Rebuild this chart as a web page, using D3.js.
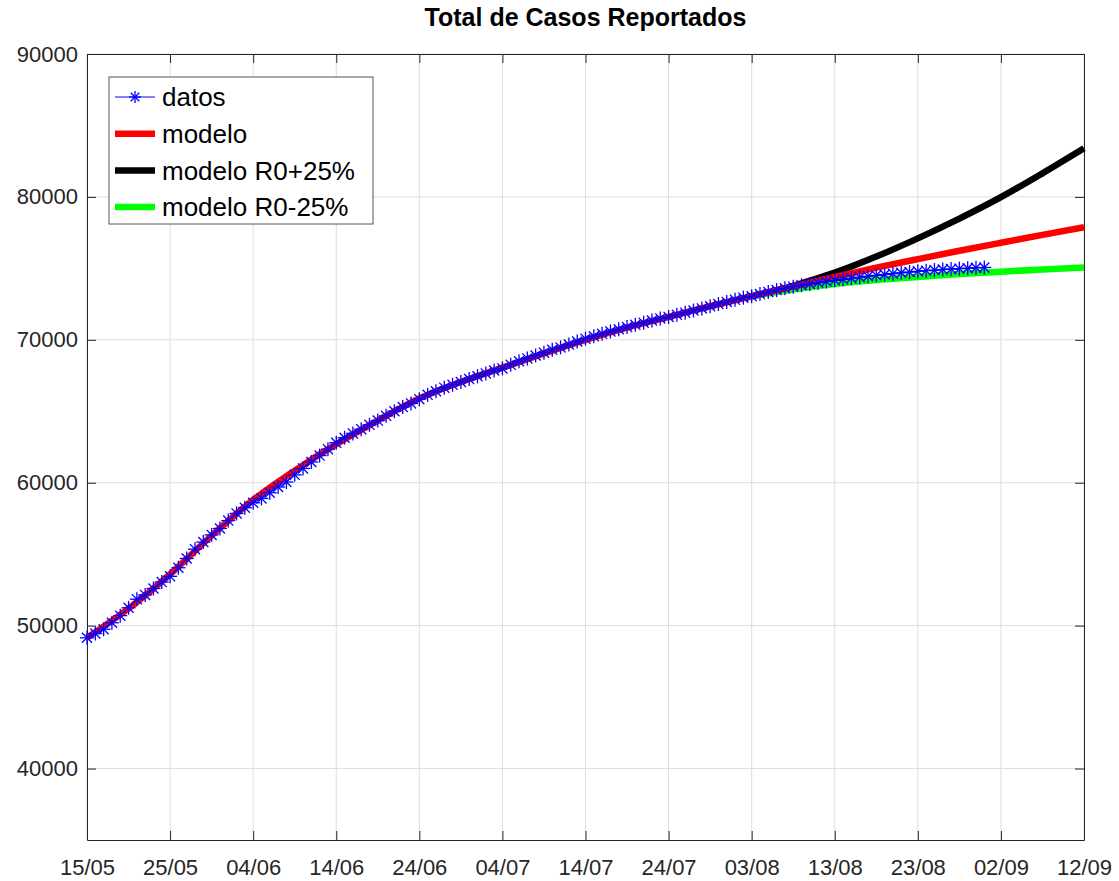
<!DOCTYPE html>
<html>
<head>
<meta charset="utf-8">
<script src="https://cdn.jsdelivr.net/npm/d3@7"></script>
<style>
body{margin:0;background:#fff;}
text{font-family:"Liberation Sans",Arial,Helvetica,sans-serif;}
.grid line{stroke:#dedede;stroke-width:1;}
.axis path,.axis line{stroke:#262626;stroke-width:1;}
.axis text{fill:#262626;font-size:22px;}
</style>
</head>
<body>
<script>
/*
datos diarios desde 15/05, modelos cada 5 dias
*/
var inicio = new Date(2020,4,15);

// casos reportados, un valor por dia (15/05 .. 31/08)
var datos = [49150,49450,49750,50200,50700,51250,51850,52150,52600,53050,
	53450,54050,54700,55350,55850,56350,56800,57350,57850,58250,
	58600,58900,59300,59700,60050,60550,61000,61450,61900,62350,
	62800,63150,63450,63750,64050,64350,64680,65000,65300,65550,
	65850,66150,66400,66650,66850,67050,67250,67450,67650,67850,
	68000,68250,68500,68700,68900,69100,69300,69470,69670,69880,
	70080,70250,70420,70580,70740,70900,71050,71200,71350,71500,
	71600,71750,71900,72050,72200,72350,72500,72650,72800,72950,
	73050,73200,73350,73480,73600,73720,73820,73910,74000,74080,
	74160,74230,74310,74380,74450,74510,74570,74630,74690,74740,
	74790,74840,74880,74920,74950,74980,75010,75040,75060];

// modelo: dias desde 15/05 y valores
var diasModelo = [0,5,10,15,20,25,30,35,40,45,50,55,60,65,70,75,80,85,90,95,100,105,110,115,120];
var modelo = [49150,51200,53600,56300,58800,60850,62700,64350,65900,67050,68050,69050,70000,
	70850,71600,72350,73050,73730,74400,75050,75650,76230,76790,77340,77880];

// escenarios R0 +/- 25% desde 03/08
var diasEsc = [80,85,90,95,100,105,110,115,120];
var modeloMas = [73050,73780,74700,75830,77100,78480,79980,81650,83400];
var modeloMenos = [73050,73520,73900,74180,74400,74600,74770,74920,75060];

var yTicks = [40000,50000,60000,70000,80000,90000];
var xTickLabels = ["15/05","25/05","04/06","14/06","24/06","04/07","14/07","24/07","03/08","13/08","23/08","02/09","12/09"];

var leyenda = ["datos","modelo","modelo R0+25%","modelo R0-25%"];
var colores = ["#0000ff","#ff0000","#000000","#00ff00"];

function fecha(d){ return d3.timeDay.offset(inicio,d); }

var svgwidth=1119, svgheight=881;
var margin={top:54,right:35,bottom:41,left:87};
var width=svgwidth-margin.left-margin.right;
var height=svgheight-margin.top-margin.bottom;

var svg=d3.select("body").append("svg")
	.attr("width",svgwidth)
	.attr("height",svgheight);

var g=svg.append("g")
	.attr("transform","translate("+margin.left+","+margin.top+")");

var parse=d3.timeParse("%d/%m/%Y");
var tickDates=xTickLabels.map(function(s){ return parse(s+"/2020"); });

var x=d3.scaleTime()
	.domain([tickDates[0],tickDates[tickDates.length-1]])
	.range([0,width]);
var y=d3.scaleLinear()
	.domain([35000,90000])
	.range([height,0]);

// grid
var grid=g.append("g").attr("class","grid");
grid.selectAll(".gx").data(tickDates).enter().append("line")
	.attr("x1",function(d){return x(d);}).attr("x2",function(d){return x(d);})
	.attr("y1",0).attr("y2",height);
grid.selectAll(".gy").data(yTicks).enter().append("line")
	.attr("x1",0).attr("x2",width)
	.attr("y1",function(d){return y(d);}).attr("y2",function(d){return y(d);});

var fmt=d3.timeFormat("%d/%m");

g.append("g").attr("class","axis")
	.attr("transform","translate(0,"+height+")")
	.call(d3.axisBottom(x).tickValues(tickDates).tickFormat(fmt).tickSizeInner(-9).tickSizeOuter(0).tickPadding(19));
g.append("g").attr("class","axis")
	.call(d3.axisTop(x).tickValues(tickDates).tickFormat("").tickSizeInner(-9).tickSizeOuter(0));
g.append("g").attr("class","axis")
	.call(d3.axisLeft(y).tickValues(yTicks).tickFormat(d3.format("d")).tickSizeInner(-9).tickSizeOuter(0).tickPadding(9));
g.append("g").attr("class","axis")
	.attr("transform","translate("+width+",0)")
	.call(d3.axisRight(y).tickValues(yTicks).tickFormat("").tickSizeInner(-9).tickSizeOuter(0));

var plot=g.append("g");

var linea=d3.line()
	.x(function(d){return x(fecha(d[0]));})
	.y(function(d){return y(d[1]);})
	.curve(d3.curveMonotoneX);

plot.append("path")
	.datum(diasEsc.map(function(d,i){return [d,modeloMas[i]];}))
	.attr("d",linea).attr("fill","none")
	.attr("stroke",colores[2]).attr("stroke-width",6.5);
plot.append("path")
	.datum(diasEsc.map(function(d,i){return [d,modeloMenos[i]];}))
	.attr("d",linea).attr("fill","none")
	.attr("stroke",colores[3]).attr("stroke-width",6.5);
plot.append("path")
	.datum(diasModelo.map(function(d,i){return [d,modelo[i]];}))
	.attr("d",linea).attr("fill","none")
	.attr("stroke",colores[1]).attr("stroke-width",6.5);

// datos: linea fina + asteriscos
var pts=datos.map(function(v,i){return [i,v];});
plot.append("path")
	.datum(pts)
	.attr("d",d3.line().x(function(d){return x(fecha(d[0]));}).y(function(d){return y(d[1]);}))
	.attr("fill","none").attr("stroke",colores[0]).attr("stroke-width",1);

function asterisco(sel,r){
	var a=r*0.72;
	sel.append("line").attr("x1",-r).attr("x2",r).attr("y1",0).attr("y2",0);
	sel.append("line").attr("x1",0).attr("x2",0).attr("y1",-r).attr("y2",r);
	sel.append("line").attr("x1",-a).attr("x2",a).attr("y1",-a).attr("y2",a);
	sel.append("line").attr("x1",-a).attr("x2",a).attr("y1",a).attr("y2",-a);
}

var mk=plot.selectAll(".mk").data(pts).enter().append("g")
	.attr("class","mk")
	.attr("transform",function(d){return "translate("+x(fecha(d[0]))+","+y(d[1])+")";})
	.attr("stroke",colores[0]).attr("stroke-width",1.3);
mk.each(function(){ asterisco(d3.select(this),7); });

// titulo
svg.append("text")
	.attr("x",margin.left+width/2)
	.attr("y",26)
	.attr("text-anchor","middle")
	.style("font-size","25px")
	.style("font-weight","bold")
	.text("Total de Casos Reportados");

// leyenda
var ley=svg.append("g").attr("transform","translate(109,77)");
ley.append("rect")
	.attr("width",264).attr("height",147)
	.attr("fill","#fff").attr("stroke","#555").attr("stroke-width",1);
leyenda.forEach(function(s,i){
	var yy=20+i*36.7;
	ley.append("line")
		.attr("x1",6).attr("x2",46).attr("y1",yy).attr("y2",yy)
		.attr("stroke",colores[i]).attr("stroke-width",i==0?1:6.5);
	if(i==0){
		var m=ley.append("g").attr("transform","translate(26,"+yy+")")
			.attr("stroke",colores[0]).attr("stroke-width",1.3);
		asterisco(m,6);
	}
	ley.append("text")
		.attr("x",53).attr("y",yy).attr("dy","0.35em")
		.style("font-size","26px").attr("fill","#000")
		.text(s);
});
</script>
</body>
</html>
